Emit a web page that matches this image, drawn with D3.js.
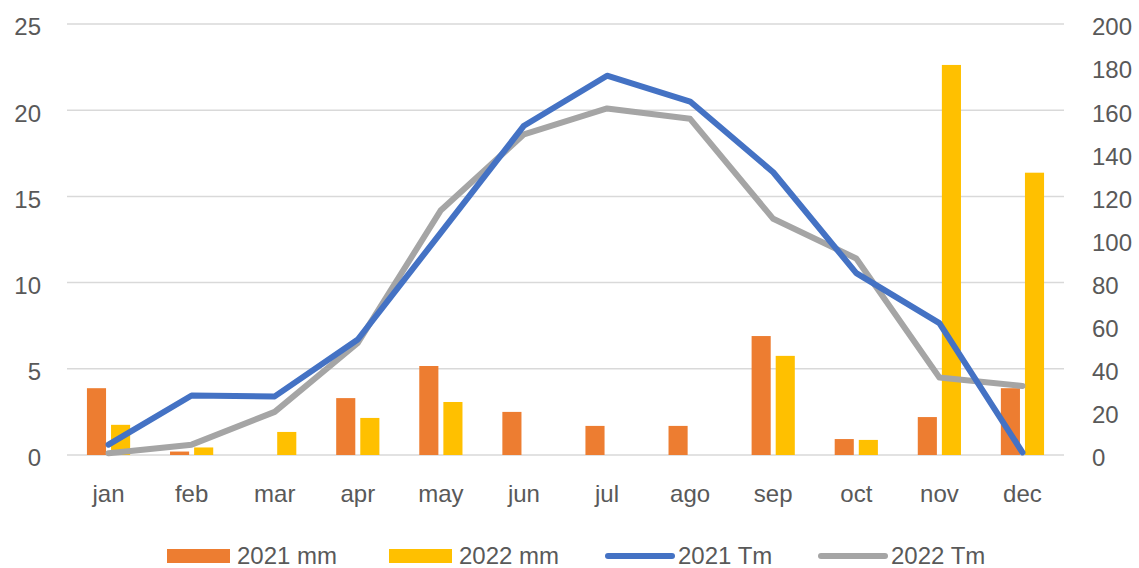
<!DOCTYPE html>
<html><head><meta charset="utf-8">
<script src="https://cdn.jsdelivr.net/npm/d3@7"></script>
<style>body{margin:0;background:#fff}svg{display:block}</style>
</head><body>
<svg id="c" width="1139" height="568"></svg>
<script>
const months = ["jan","feb","mar","apr","may","jun","jul","ago","sep","oct","nov","dec"];
const mm2021 = [31,1.6,0,26.4,41.3,20,13.5,13.5,55.2,7.4,17.6,31];
const mm2022 = [14,3.5,10.7,17.2,24.6,0,0,0,46,7,181,131];
const tm2021 = [0.6,3.45,3.4,6.7,12.9,19.1,22.0,20.5,16.4,10.55,7.65,0.15];
const tm2022 = [0.1,0.6,2.5,6.5,14.2,18.6,20.1,19.5,13.7,11.4,4.5,4.0];
const leftTicks = [0,5,10,15,20,25];
const rightTicks = [0,20,40,60,80,100,120,140,160,180,200];
const seriesNames = ["2021 mm","2022 mm","2021 Tm","2022 Tm"];
const colors = {"2021 mm":"#ED7D31","2022 mm":"#FFC000","2021 Tm":"#4472C4","2022 Tm":"#A5A5A5"};

const svg = d3.select("#c");
const font = "'Liberation Sans', Arial, sans-serif";
const x0 = 67, x1 = 1064, yTop = 24, yBot = 455;
const x = d3.scaleBand().domain(months).range([x0,x1]).padding(0);
const yL = d3.scaleLinear().domain([0,25]).range([yBot,yTop]);
const yR = d3.scaleLinear().domain([0,200]).range([yBot,yTop]);

// gridlines
svg.append("g").selectAll("line").data(leftTicks).join("line")
  .attr("x1",x0).attr("x2",x1).attr("y1",d=>yL(d)).attr("y2",d=>yL(d))
  .attr("stroke","#D9D9D9").attr("stroke-width",1.5);

// left axis
const gl = svg.append("g").attr("transform",`translate(${x0},0)`)
  .call(d3.axisLeft(yL).tickValues(leftTicks).tickSize(0).tickPadding(26));
gl.select(".domain").remove();
gl.selectAll("text").attr("font-family",font).attr("font-size",24).attr("fill","#595959").attr("dy","0.45em");

// right axis
const gr = svg.append("g").attr("transform",`translate(${x1},0)`)
  .call(d3.axisRight(yR).tickValues(rightTicks).tickSize(0).tickPadding(28));
gr.select(".domain").remove();
gr.selectAll("text").attr("font-family",font).attr("font-size",24).attr("fill","#595959").attr("dy","0.45em");

// bottom axis
const gb = svg.append("g").attr("transform",`translate(0,${yBot})`)
  .call(d3.axisBottom(x).tickSize(0).tickPadding(30));
gb.select(".domain").remove();
gb.selectAll("text").attr("font-family",font).attr("font-size",24).attr("fill","#595959");

// bars
const bw = x.bandwidth()*0.23, gap = x.bandwidth()*0.06;
const barData = [];
months.forEach((m,i)=>{
  barData.push({m, v:mm2021[i], s:"2021 mm", off:-gap/2-bw});
  barData.push({m, v:mm2022[i], s:"2022 mm", off:gap/2});
});
svg.append("g").selectAll("rect").data(barData.filter(d=>d.v>0)).join("rect")
  .attr("x",d=>x(d.m)+x.bandwidth()/2+d.off)
  .attr("width",bw)
  .attr("y",d=>yR(d.v))
  .attr("height",d=>yBot-yR(d.v))
  .attr("fill",d=>colors[d.s]);

// lines
const line = d3.line().x((d,i)=>x(months[i])+x.bandwidth()/2).y(d=>yL(d));
[["2022 Tm",tm2022],["2021 Tm",tm2021]].forEach(([s,arr])=>{
  svg.append("path").datum(arr).attr("d",line).attr("fill","none")
    .attr("stroke",colors[s]).attr("stroke-width",6)
    .attr("stroke-linejoin","round").attr("stroke-linecap","round");
});

// legend
const legX = [167,389,606,819];
const lg = svg.append("g");
seriesNames.forEach((s,i)=>{
  const g = lg.append("g").attr("transform",`translate(${legX[i]},556)`);
  if(i<2){
    g.append("rect").attr("x",0).attr("y",-7).attr("width",63).attr("height",14).attr("fill",colors[s]);
  } else {
    g.append("line").attr("x1",2).attr("x2",66).attr("y1",0).attr("y2",0)
      .attr("stroke",colors[s]).attr("stroke-width",6).attr("stroke-linecap","round");
  }
  g.append("text").attr("x",i<2?70:72).attr("y",0).attr("dy","0.35em")
    .attr("font-family",font).attr("font-size",24).attr("fill","#595959").text(s);
});
</script>
</body></html>
